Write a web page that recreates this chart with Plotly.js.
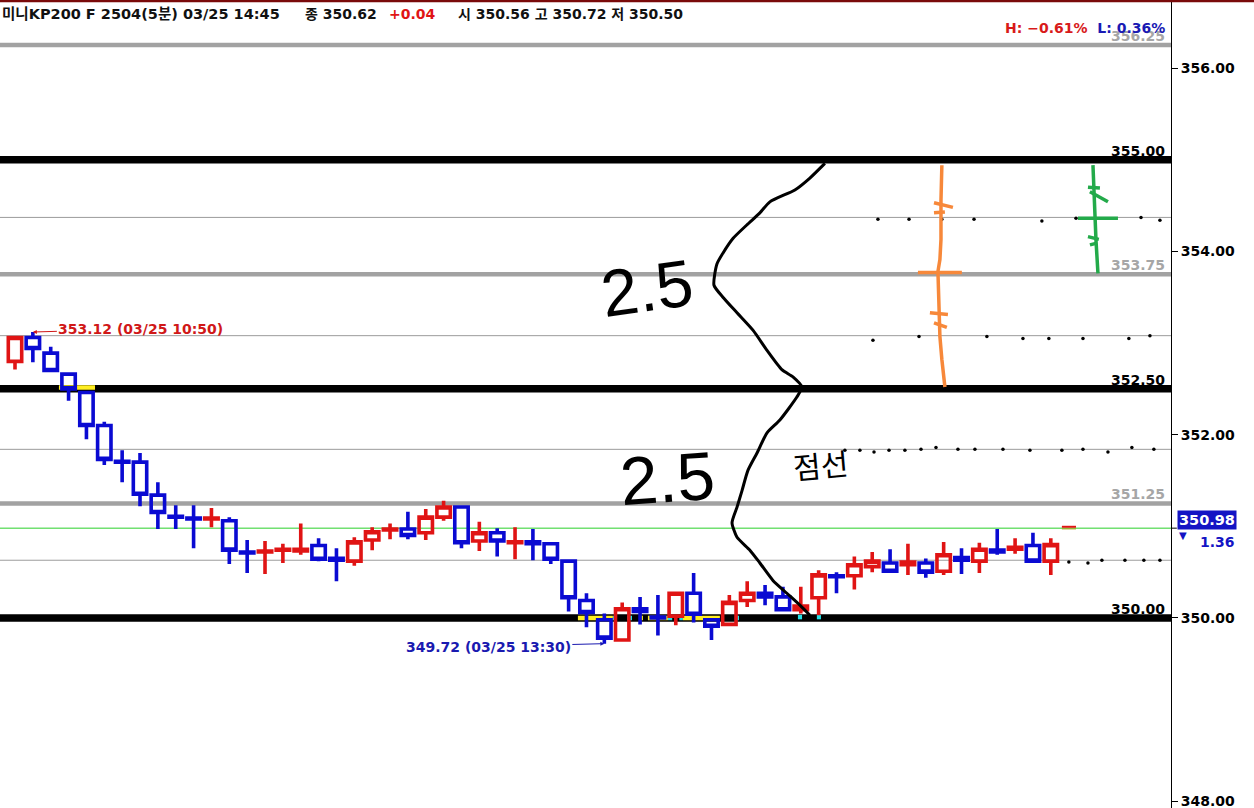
<!DOCTYPE html>
<html><head><meta charset="utf-8">
<script src="https://cdn.plot.ly/plotly-3.0.1.min.js"></script>
<style>html,body{margin:0;padding:0;background:#fff;}#chart{width:1254px;height:808px;}</style>
</head><body><div id="chart"></div>
<script>
// ---- data ----
const times = ['10:45','10:50','10:55','11:00','11:05','11:10','11:15','11:20','11:25','11:30','11:35','11:40','11:45','11:50','11:55','12:00','12:05','12:10','12:15','12:20','12:25','12:30','12:35','12:40','12:45','12:50','12:55','13:00','13:05','13:10','13:15','13:20','13:25','13:30','13:35','13:40','13:45','13:50','13:55','14:00','14:05','14:10','14:15','14:20','14:25','14:30','14:35','14:40','14:45','14:50','14:55','15:00','15:05','15:10','15:15','15:20','15:25','15:30','15:35'];
const openP  = [352.80,353.06,352.89,352.66,352.46,352.10,351.71,351.70,351.34,351.11,351.09,351.08,351.06,350.72,350.72,350.74,350.73,350.79,350.65,350.62,350.85,350.96,350.97,350.93,351.10,351.21,350.84,350.93,350.82,350.83,350.81,350.62,350.19,349.98,349.76,350.10,350.01,350.02,350.27,349.98,349.93,350.19,350.27,350.23,350.09,350.22,350.46,350.46,350.56,350.60,350.58,350.60,350.51,350.66,350.62,350.74,350.75,350.79,350.62];
const highP  = [353.08,353.12,352.96,352.68,352.48,352.14,351.83,351.80,351.48,351.23,351.23,351.20,351.10,350.85,350.84,350.81,351.03,350.87,350.76,350.88,350.99,351.03,351.16,351.19,351.28,351.23,351.05,350.98,350.99,350.97,350.83,350.64,350.27,350.05,350.17,350.23,350.25,350.29,350.49,350.00,350.25,350.40,350.36,350.34,350.34,350.52,350.50,350.67,350.72,350.75,350.81,350.65,350.83,350.76,350.82,350.97,350.87,350.93,350.87];
const lowP   = [352.71,352.79,352.68,352.37,351.95,351.67,351.48,351.22,350.97,350.97,350.76,350.99,350.59,350.49,350.48,350.60,350.69,350.62,350.40,350.57,350.74,350.86,350.86,350.85,351.06,350.76,350.73,350.67,350.64,350.63,350.59,350.07,349.90,349.72,349.74,349.93,349.81,349.92,349.95,349.76,349.93,350.12,350.14,350.07,350.05,350.03,350.27,350.31,350.50,350.49,350.47,350.44,350.47,350.48,350.49,350.69,350.70,350.60,350.47];
const closeP = [353.06,352.94,352.70,352.50,352.10,351.73,351.70,351.35,351.15,351.10,351.08,351.09,350.74,350.71,350.73,350.75,350.75,350.64,350.63,350.83,350.94,350.97,350.90,351.10,351.21,350.82,350.93,350.84,350.83,350.81,350.64,350.22,350.06,349.78,350.10,350.07,350.00,350.27,350.04,349.91,350.17,350.27,350.23,350.09,350.13,350.47,350.45,350.58,350.62,350.51,350.61,350.50,350.69,350.63,350.75,350.72,350.77,350.62,350.80];

const tickVals = [348, 350, 352, 354, 356];
const tickText = ['348.00', '350.00', '352.00', '354.00', '356.00'];

const blackLevels = [355.00, 352.50, 350.00];
const blackLabels = ['355.00', '352.50', '350.00'];
const grayLevels  = [356.25, 353.75, 351.25];
const grayLabels  = ['356.25', '353.75', '351.25'];
const thinLevels  = [354.37, 353.08, 351.84, 350.63];
const greenLevel  = 350.98;
const greenLabel  = '350.98';
const greenDiff   = '1.36';

const hiMark = {idx: 1, price: 353.12, text: '353.12 (03/25 10:50)'};
const loMark = {idx: 33, price: 349.72, text: '349.72 (03/25 13:30)'};

const headerA = '미니KP200 F 2504(5분) 03/25 14:45';
const headerB = '종 350.62';
const headerC = '+0.04';
const headerD = '시 350.56 고 350.72 저 350.50';
const hlText = '<span style="color:#d81a1a">H: −0.61%</span>  <span style="color:#1a1ab4">L: 0.36%</span>';

// hand drawn marks (x in candle index units, y in price)
const curveX = [45.35,44.51,43.67,42.27,41.71,40.99,40.20,39.64,39.30,39.14,39.64,40.43,41.32,42.11,42.94,43.56,44.06,43.78,42.83,42.11,41.55,41.04,40.71,40.43,40.15,40.43,41.15,41.71,42.44,43.22,43.95,44.51];
const curveY = [354.96,354.80,354.67,354.54,354.42,354.29,354.14,353.98,353.86,353.63,353.50,353.33,353.14,352.92,352.71,352.63,352.52,352.41,352.16,352.02,351.80,351.61,351.39,351.21,351.04,350.88,350.74,350.60,350.41,350.27,350.14,350.03];
const orangeX = [51.90,51.85,51.85,51.79,51.68,51.74,51.79,51.90,52.07, null, 51.46,52.52, null, 51.46,52.07, null, 50.56,53.02, null, 51.23,52.24, null, 51.46,52.18];
const orangeY = [354.94,354.56,354.13,353.91,353.78,353.47,353.07,352.82,352.52, null, 354.53,354.48, null, 354.42,354.43, null, 353.77,353.77, null, 353.33,353.31, null, 353.22,353.17];
const greenX = [60.36,60.41,60.47,60.53,60.64, null, 60.08,60.75, null, 60.19,61.20, null, 59.52,61.76, null, 60.08,60.69, null, 60.19,60.58];
const greenY = [354.94,354.67,354.37,354.12,353.76, null, 354.70,354.69, null, 354.65,354.54, null, 354.36,354.36, null, 354.16,354.13, null, 354.07,354.09];
const dotsX = [48.32,50.06,51.90,53.70,57.50,59.41,63.05,64.11,
               48.04,50.62,54.42,56.44,57.89,59.80,62.37,63.55,
               46.47,47.31,48.10,48.94,49.83,50.73,51.57,52.80,53.75,55.32,56.83,58.62,59.80,61.20,62.54,63.77,
               59.01,60.08,60.86,62.15,63.21,64.11];
const dotsY = [354.35,354.35,354.35,354.35,354.33,354.36,354.37,354.34,
               353.03,353.07,353.07,353.05,353.05,353.05,353.05,353.08,
               351.83,351.83,351.81,351.83,351.83,351.84,351.86,351.84,351.84,351.84,351.83,351.83,351.84,351.81,351.86,351.84,
               350.61,350.60,350.63,350.63,350.63,350.63];
// highlight segments on level lines [x0, x1, price, colour]
const highlights = [
  [2.46, 4.48, 352.515, '#ffee22'],
  [31.52, 33.48, 350.0, '#ffee22'], [33.48, 33.71, 350.0, '#22e0e8'], [34.27, 34.55, 350.0, '#22e0e8'],
  [34.94, 35.16, 350.0, '#ffee22'], [35.44, 36.56, 350.0, '#ffee22'], [36.56, 36.80, 350.0, '#22e0e8'],
  [37.20, 37.40, 350.0, '#22e0e8'], [37.40, 39.47, 350.0, '#ffee22'], [40.31, 40.54, 350.0, '#22e0e8'],
  [43.84, 44.07, 350.01, '#22e0e8'], [44.90, 45.13, 350.01, '#22e0e8']
];

// ---- build ----
const idx = times.map((t, i) => i);
const RED = '#e01414', BLUE = '#0a0ad2';
const traces = [{
  type: 'candlestick', x: idx, open: openP, high: highP, low: lowP, close: closeP,
  text: times, hoverinfo: 'skip',
  increasing: {line: {color: RED, width: 3.6}, fillcolor: 'rgba(0,0,0,0)'},
  decreasing: {line: {color: BLUE, width: 3.6}, fillcolor: 'rgba(0,0,0,0)'},
  whiskerwidth: 0
}, {
  type: 'scatter', mode: 'markers', x: dotsX, y: dotsY, hoverinfo: 'skip',
  marker: {color: '#000', size: 3.5}
}, {
  type: 'scatter', mode: 'lines', x: curveX, y: curveY, hoverinfo: 'skip',
  line: {color: '#000', width: 3, shape: 'spline', smoothing: 0.6}
}, {
  type: 'scatter', mode: 'lines', x: orangeX, y: orangeY, hoverinfo: 'skip', connectgaps: false,
  line: {color: '#f7883a', width: 3.5}
}, {
  type: 'scatter', mode: 'lines', x: greenX, y: greenY, hoverinfo: 'skip', connectgaps: false,
  line: {color: '#23aa4a', width: 3.5}
}];

const shapes = [];
shapes.push({type: 'line', xref: 'paper', yref: 'paper', x0: 0, x1: 1254 / 1171, y0: 0.9988, y1: 0.9988, line: {color: '#7a0a0a', width: 2.5}});
thinLevels.forEach(v => shapes.push({type: 'line', layer: 'below', xref: 'paper', yref: 'y', x0: 0, x1: 1, y0: v, y1: v, line: {color: '#9c9c9c', width: 1}}));
grayLevels.forEach(v => shapes.push({type: 'line', layer: 'below', xref: 'paper', yref: 'y', x0: 0, x1: 1, y0: v, y1: v, line: {color: '#a2a2a2', width: 4.5}}));
shapes.push({type: 'line', layer: 'below', xref: 'paper', yref: 'y', x0: 0, x1: 1, y0: greenLevel, y1: greenLevel, line: {color: '#2ad02a', width: 1}});
blackLevels.forEach(v => shapes.push({type: 'line', layer: 'below', xref: 'paper', yref: 'y', x0: 0, x1: 1, y0: v, y1: v, line: {color: '#000', width: 7.5}}));
highlights.forEach(h => shapes.push({type: 'line', layer: 'below', xref: 'x', yref: 'y', x0: h[0], x1: h[1], y0: h[2], y1: h[2], line: {color: h[3], width: 4.5}}));
shapes.push({type: 'line', xref: 'paper', yref: 'y', x0: 1, x1: 1.005, y0: greenLevel, y1: greenLevel, line: {color: '#000', width: 1}});
// last-price marker dash
shapes.push({type: 'line', xref: 'x', yref: 'y', x0: 58.62, x1: 59.41, y0: 350.995, y1: 350.995, line: {color: '#e01414', width: 2}});
shapes.push({type: 'line', xref: 'x', yref: 'y', x0: 58.62, x1: 59.41, y0: 350.972, y1: 350.972, line: {color: '#a89a10', width: 1}});

const LBL = {family: 'DejaVu Sans', size: 14, weight: 'bold'};
const ann = [];
const rightX = 1167 / 1171;
grayLevels.forEach((v, i) => ann.push({xref: 'paper', yref: 'y', x: rightX, y: v, xanchor: 'right', yanchor: 'middle', yshift: 9, showarrow: false, text: grayLabels[i], font: Object.assign({}, LBL, {color: '#a6a6a6'})}));
blackLevels.forEach((v, i) => ann.push({xref: 'paper', yref: 'y', x: rightX, y: v, xanchor: 'right', yanchor: 'middle', yshift: 9, showarrow: false, text: blackLabels[i], font: Object.assign({}, LBL, {color: '#000'})}));
ann.push({xref: 'paper', yref: 'paper', x: rightX, y: 1 - 28 / 808, xanchor: 'right', yanchor: 'middle', showarrow: false, text: hlText, font: LBL});
// header
const HF = {family: 'DejaVu Sans, Noto Sans CJK KR', size: 14, weight: 'bold', color: '#111'};
const hy = 1 - 14 / 808;
ann.push({xref: 'paper', yref: 'paper', x: 0, y: hy, xanchor: 'left', yanchor: 'middle', showarrow: false, text: headerA, font: Object.assign({}, HF, {size: 14.5})});
ann.push({xref: 'paper', yref: 'paper', x: 303 / 1171, y: hy, xanchor: 'left', yanchor: 'middle', showarrow: false, text: headerB, font: HF});
ann.push({xref: 'paper', yref: 'paper', x: 387 / 1171, y: hy, xanchor: 'left', yanchor: 'middle', showarrow: false, text: headerC, font: Object.assign({}, HF, {color: '#e01414'})});
ann.push({xref: 'paper', yref: 'paper', x: 456 / 1171, y: hy, xanchor: 'left', yanchor: 'middle', showarrow: false, text: headerD, font: HF});
// high / low markers
ann.push({x: hiMark.idx, y: hiMark.price, xref: 'x', yref: 'y', text: hiMark.text, showarrow: true, ax: 108, ay: -3, arrowhead: 2, arrowsize: 0.8, arrowwidth: 1, arrowcolor: '#d01818', font: {family: 'DejaVu Sans', size: 14, weight: 'bold', color: '#d01818'}});
ann.push({x: loMark.idx, y: loMark.price, xref: 'x', yref: 'y', text: loMark.text, showarrow: true, ax: -116, ay: 3, arrowhead: 2, arrowsize: 0.8, arrowwidth: 1, arrowcolor: '#1a1ab0', font: {family: 'DejaVu Sans', size: 14, weight: 'bold', color: '#1a1ab0'}});
// current price tag
ann.push({xref: 'paper', yref: 'y', x: 1177 / 1171, y: greenLevel, yshift: 8, xanchor: 'left', yanchor: 'middle', showarrow: false, text: greenLabel, bgcolor: '#1414c4', borderpad: 1, font: Object.assign({}, LBL, {color: '#fff', size: 14.5})});
ann.push({xref: 'paper', yref: 'y', x: 1183 / 1171, y: greenLevel, yshift: -7, xanchor: 'center', yanchor: 'middle', showarrow: false, text: '▼', font: {family: 'DejaVu Sans', size: 10, color: '#1414c4'}});
ann.push({xref: 'paper', yref: 'y', x: 1237 / 1171, y: greenLevel, yshift: -14, xanchor: 'right', yanchor: 'middle', showarrow: false, text: greenDiff, font: Object.assign({}, LBL, {color: '#1414c4'})});
// handwriting
ann.push({xref: 'x', yref: 'y', x: 35.39, y: 353.60, showarrow: false, text: '2.5', textangle: -8, font: {family: 'Liberation Sans', size: 66, color: '#000'}});
ann.push({xref: 'x', yref: 'y', x: 36.56, y: 351.53, showarrow: false, text: '2.5', textangle: -4, font: {family: 'Liberation Sans', size: 68, color: '#000'}});
ann.push({xref: 'x', yref: 'y', x: 45.13, y: 351.68, showarrow: false, text: '점선', textangle: -5, font: {family: 'Noto Sans CJK KR', size: 30, color: '#000'}});

const layout = {
  width: 1254, height: 808,
  margin: {l: 0, r: 83, t: 0, b: 0, pad: 0},
  paper_bgcolor: '#fff', plot_bgcolor: '#fff',
  showlegend: false, hovermode: false,
  boxgap: 0.25, boxgroupgap: 0,
  xaxis: {type: 'linear', range: [-0.84, 64.73], visible: false, showgrid: false, zeroline: false, rangeslider: {visible: false}, fixedrange: true},
  yaxis: {range: [347.927, 356.742], side: 'right', showgrid: false, zeroline: false, showline: true, linecolor: '#000', linewidth: 1,
          ticks: 'outside', ticklen: 6, tickcolor: '#000', tickvals: tickVals, ticktext: tickText, ticklabeloverflow: 'allow',
          tickfont: {family: 'DejaVu Sans', size: 14, color: '#000', weight: 'bold'}, fixedrange: true},
  shapes: shapes, annotations: ann
};
Plotly.newPlot('chart', traces, layout, {displayModeBar: false, staticPlot: true});
</script></body></html>
